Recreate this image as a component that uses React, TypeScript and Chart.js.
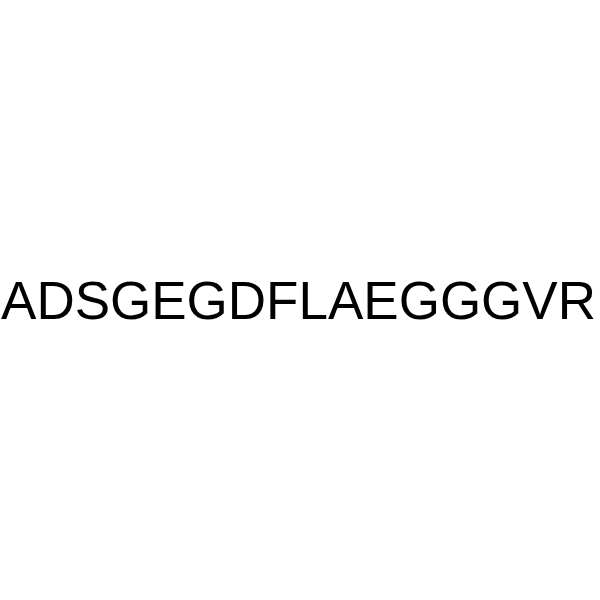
import { useEffect, useRef } from 'react';
import { Chart, registerables, Plugin } from 'chart.js';

Chart.register(...registerables);

// the whole picture is one peptide sequence label
const sequenceLabels = ['ADSGEGDFLAEGGGVR'];

const sequencePlugin: Plugin = {
  id: 'sequenceLabel',
  afterDraw(chart) {
    const { ctx, chartArea } = chart;
    const cx = (chartArea.left + chartArea.right) / 2;
    const cy = (chartArea.top + chartArea.bottom) / 2;
    ctx.save();
    ctx.fillStyle = '#000000';
    ctx.font = '53px "Liberation Sans", Arial, sans-serif';
    ctx.textAlign = 'center';
    ctx.textBaseline = 'alphabetic';
    ctx.fillText(sequenceLabels[0], cx, cy + 19);
    ctx.restore();
  },
};

export default function App() {
  const canvasRef = useRef<HTMLCanvasElement>(null);

  useEffect(() => {
    document.body.style.margin = '0';
    if (!canvasRef.current) return;

    const chart = new Chart(canvasRef.current, {
      type: 'bar',
      data: {
        labels: sequenceLabels,
        datasets: [],
      },
      options: {
        responsive: false,
        animation: false,
        layout: { padding: { left: 0, right: 3, top: 0, bottom: 0 } },
        plugins: {
          legend: { display: false },
          tooltip: { enabled: false },
          title: { display: false },
        },
        scales: {
          x: { display: false },
          y: { display: false },
        },
      },
      plugins: [sequencePlugin],
    });

    return () => {
      chart.destroy();
    };
  }, []);

  return (
    <div style={{ width: 600, height: 600, background: '#ffffff' }}>
      <canvas ref={canvasRef} width={600} height={600} />
    </div>
  );
}
